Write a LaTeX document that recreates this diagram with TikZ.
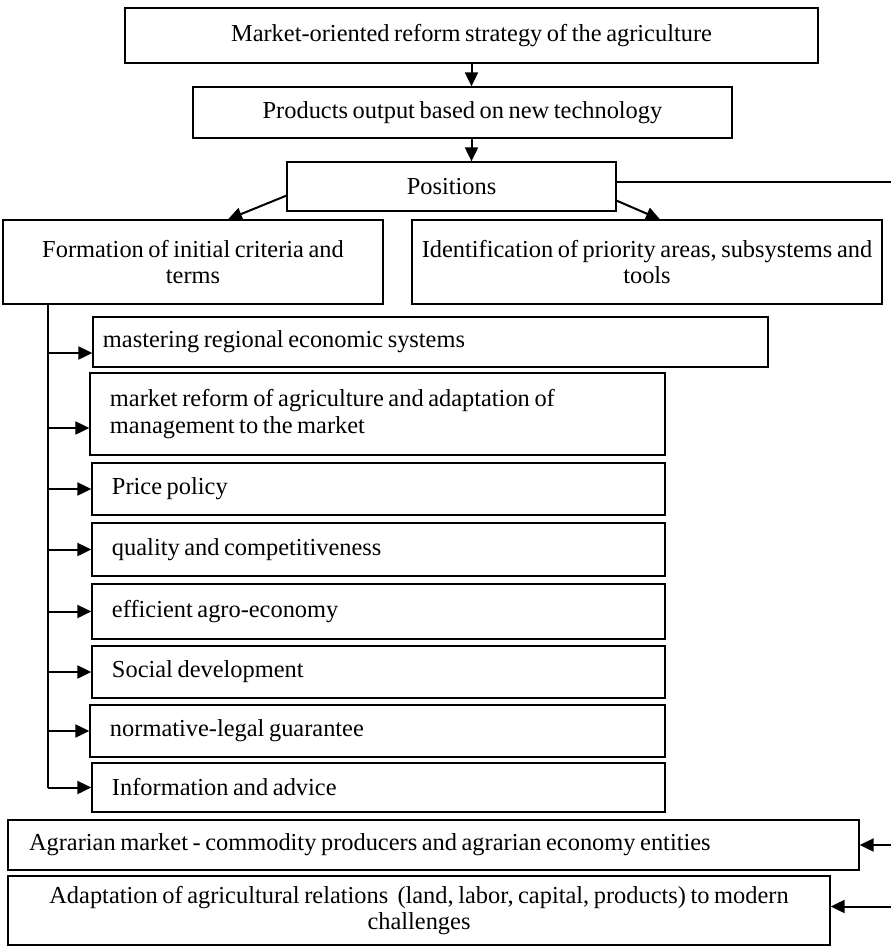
\documentclass[tikz,border=0pt]{standalone}
\usepackage{fontspec}
\setmainfont[WordSpace=0.75]{Liberation Serif}
\usetikzlibrary{positioning}
\usetikzlibrary{arrows.meta}

\begin{document}
\begin{tikzpicture}[
    x=0.5pt, y=-0.5pt,
    font=\fontsize{12.2}{13.4}\selectfont
]
\tikzset{
    mybox/.style = {rectangle, draw=black, line width=0.65pt, inner sep=0pt, align=center},
    myitem/.style = {rectangle, draw=black, line width=0.65pt, inner ysep=0pt, inner xsep=10pt, align=flush left},
    edgen/.style = {-{Triangle[length=7pt,width=6.5pt]}, line width=1pt},
    edgel/.style = {line width=1pt}
}
\useasboundingbox (0,0) rectangle (891,950);
\node[mybox, minimum width=346.5pt, minimum height=27.5pt] at (471.5,35.5) (strat) {Market-oriented reform strategy of the agriculture};
\node[mybox, minimum width=269.5pt, minimum height=25.5pt] at (462.5,112.5) (prod) {Products output based on new technology};
\node[mybox, minimum width=164.5pt, minimum height=24.5pt] at (451.5,186.5) (pos) {Positions};
\node[mybox, minimum width=190pt, minimum height=42pt] at (193,262) (form) {Formation of initial criteria and\\terms};
\node[mybox, minimum width=235pt, minimum height=42pt] at (647,262) (ident) {Identification of priority areas, subsystems and\\tools};
\node[myitem, inner xsep=5pt, text width=327.5pt, minimum height=25pt] at (430.5,342) (m1) {mastering regional economic systems};
\node[myitem, text width=267.5pt, minimum height=41pt] at (377.5,414) (m2) {market reform of agriculture and adaptation of\\management to the market};
\node[myitem, text width=266.5pt, minimum height=26pt] at (378.5,489) (m3) {Price policy};
\node[myitem, text width=266.5pt, minimum height=26.5pt] at (378.5,549.5) (m4) {quality and competitiveness};
\node[myitem, text width=266.5pt, minimum height=27.5pt] at (378.5,611.5) (m5) {efficient agro-economy};
\node[myitem, text width=266.5pt, minimum height=26pt] at (378.5,672) (m6) {Social development};
\node[myitem, text width=267.5pt, minimum height=26pt] at (377.5,731) (m7) {normative-legal guarantee};
\node[myitem, text width=266.5pt, minimum height=24.5pt] at (378.5,787.5) (m8) {Information and advice};
\node[myitem, inner xsep=10.5pt, text width=404.5pt, minimum height=25pt] at (433.5,845) (agr) {Agrarian market - commodity producers and agrarian economy entities};
\node[mybox, minimum width=411pt, minimum height=34.5pt] at (419,910.5) (adapt) {Adaptation of agricultural relations~~(land, labor, capital, products) to modern\\challenges};
\draw[edgen] (strat.south) -- (strat.south |- prod.north);
\draw[edgen] (prod.south -| strat.south) -- (pos.north -| strat.south);
\draw[edgen] ([yshift=8pt]pos.south west) -- ([xshift=17.5pt]form.north);
\draw[edgen] ([yshift=5.5pt]pos.south east) -- ([xshift=6.5pt]ident.north);
\coordinate (edge) at (891,182);
\draw[edgel] (pos.east |- edge) -- (edge);
\draw[edgen] (agr.east -| edge) -- (agr.east);
\draw[edgen] ([yshift=2pt]adapt.east -| edge) -- ([yshift=2pt]adapt.east);
\coordinate (spine) at (48,787.5);
\draw[edgel] (form.south -| spine) -- (spine |- m8.west);
\draw[edgen] ([yshift=-5.5pt]m1.west -| spine) -- ([yshift=-5.5pt]m1.west);
\draw[edgen] ([yshift=-7pt]m2.west -| spine) -- ([yshift=-7pt]m2.west);
\foreach \n in {m3,m4,m5,m6,m7,m8}
    \draw[edgen] (\n.west -| spine) -- (\n.west);
\end{tikzpicture}
\end{document}
